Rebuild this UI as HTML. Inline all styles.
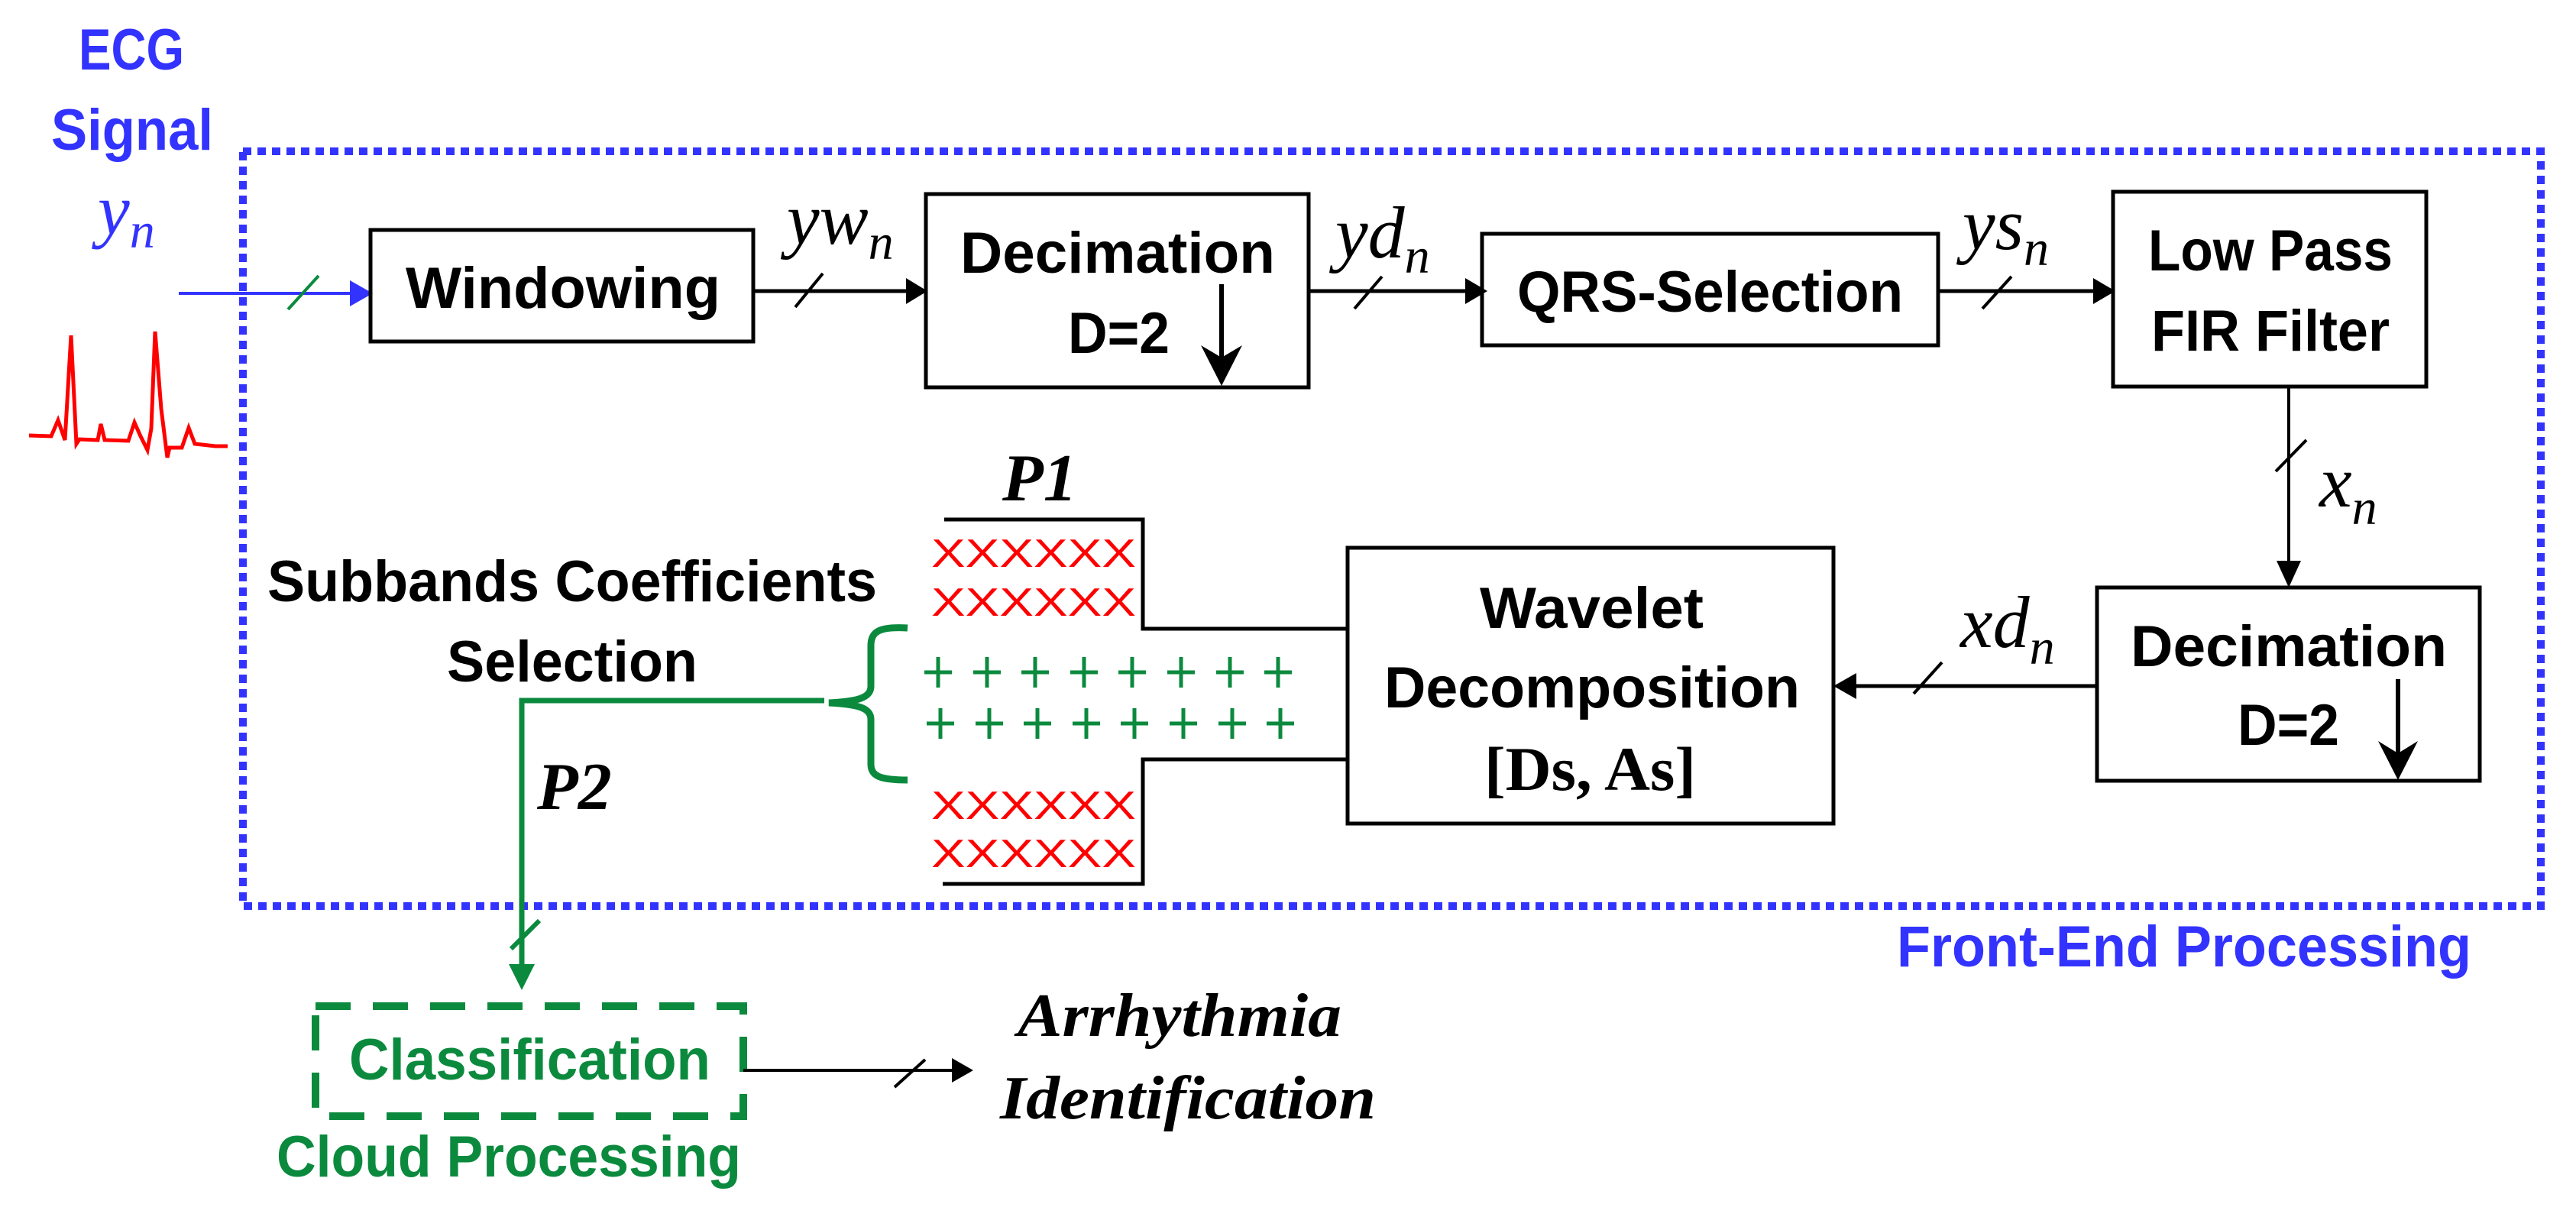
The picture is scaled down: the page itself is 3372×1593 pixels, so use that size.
<!DOCTYPE html>
<html><head><meta charset="utf-8"><style>
html,body{margin:0;padding:0;background:#fff;}
svg{display:block;}
.b{font-family:"Liberation Sans",sans-serif;font-weight:bold;font-size:76px;}
.m{font-family:"Liberation Serif",serif;font-style:italic;}
</style></head><body>
<svg width="3372" height="1593" viewBox="0 0 3372 1593" xmlns="http://www.w3.org/2000/svg">
<rect x="318" y="198" width="3008" height="988" fill="none" stroke="#3333ff" stroke-width="10" stroke-dasharray="11 8"/>
<text class="b" x="103" y="91" fill="#3333ff" textLength="138" lengthAdjust="spacingAndGlyphs">ECG</text>
<text class="b" x="67" y="196" fill="#3333ff" textLength="212" lengthAdjust="spacingAndGlyphs">Signal</text>
<text class="m" x="128" y="306" fill="#3333ff" font-size="94">y<tspan font-size="66" dy="18">n</tspan></text>
<polyline fill="none" stroke="#ff0000" stroke-width="5" points="38,570 67,571 76,550 85,576 93,439 100,581 104,575 128,576 132,555 137,576 168,577 176,553 184,571 193,589 198,561 203,434 211,535 219,599 222,586 238,586 247,560 255,581 282,584 298,584"/>
<line x1="234" y1="384" x2="462" y2="384" stroke="#3333ff" stroke-width="4"/>
<polygon points="488,384 458,367 458,401" fill="#3333ff"/>
<line x1="377" y1="405" x2="417" y2="361" stroke="#0b8a3e" stroke-width="4"/>
<rect x="485" y="301" width="501" height="146" fill="none" stroke="#000" stroke-width="5"/>
<text class="b" x="531" y="403" textLength="412" lengthAdjust="spacingAndGlyphs">Windowing</text>
<line x1="986" y1="381" x2="1190" y2="381" stroke="#000" stroke-width="5"/>
<polygon points="1214,381 1186,364 1186,398" fill="#000"/>
<line x1="1041" y1="402" x2="1077" y2="358" stroke="#000" stroke-width="4"/>
<text class="m" x="1030" y="319" font-size="96">yw<tspan font-size="66" dy="20">n</tspan></text>
<rect x="1212" y="254" width="501" height="253" fill="none" stroke="#000" stroke-width="5"/>
<text class="b" x="1257" y="357" textLength="412" lengthAdjust="spacingAndGlyphs">Decimation</text>
<text class="b" x="1398" y="462" textLength="133" lengthAdjust="spacingAndGlyphs">D=2</text>
<line x1="1599" y1="372" x2="1599" y2="470" stroke="#000" stroke-width="6"/>
<polygon points="1599,505 1572,452 1599,468 1626,452" fill="#000"/>
<line x1="1713" y1="381" x2="1922" y2="381" stroke="#000" stroke-width="5"/>
<polygon points="1947,381 1918,364 1918,398" fill="#000"/>
<line x1="1773" y1="404" x2="1809" y2="362" stroke="#000" stroke-width="4"/>
<text class="m" x="1748" y="337" font-size="96">yd<tspan font-size="66" dy="20">n</tspan></text>
<rect x="1940" y="306" width="597" height="146" fill="none" stroke="#000" stroke-width="5"/>
<text class="b" x="1986" y="408" textLength="505" lengthAdjust="spacingAndGlyphs">QRS-Selection</text>
<line x1="2537" y1="381" x2="2744" y2="381" stroke="#000" stroke-width="5"/>
<polygon points="2769,381 2740,364 2740,398" fill="#000"/>
<line x1="2595" y1="404" x2="2633" y2="362" stroke="#000" stroke-width="4"/>
<text class="m" x="2569" y="326" font-size="96">ys<tspan font-size="66" dy="21">n</tspan></text>
<rect x="2766" y="251" width="410" height="255" fill="none" stroke="#000" stroke-width="5"/>
<text class="b" x="2812" y="354" textLength="320" lengthAdjust="spacingAndGlyphs">Low Pass</text>
<text class="b" x="2816" y="459" textLength="312" lengthAdjust="spacingAndGlyphs">FIR Filter</text>
<line x1="2996" y1="506" x2="2996" y2="745" stroke="#000" stroke-width="4"/>
<polygon points="2996,769 2980,734 3012,734" fill="#000"/>
<line x1="2979" y1="617" x2="3019" y2="576" stroke="#000" stroke-width="4"/>
<text class="m" x="3036" y="663" font-size="96">x<tspan font-size="66" dy="23">n</tspan></text>
<rect x="2745" y="769" width="501" height="253" fill="none" stroke="#000" stroke-width="5"/>
<text class="b" x="2789" y="872" textLength="414" lengthAdjust="spacingAndGlyphs">Decimation</text>
<text class="b" x="2929" y="975" textLength="133" lengthAdjust="spacingAndGlyphs">D=2</text>
<line x1="3139" y1="889" x2="3139" y2="990" stroke="#000" stroke-width="6"/>
<polygon points="3139,1021 3113,970 3139,986 3165,970" fill="#000"/>
<line x1="2745" y1="898" x2="2424" y2="898" stroke="#000" stroke-width="5"/>
<polygon points="2400,898 2430,881 2430,915" fill="#000"/>
<line x1="2505" y1="908" x2="2542" y2="867" stroke="#000" stroke-width="4"/>
<text class="m" x="2566" y="847" font-size="96">xd<tspan font-size="66" dy="22">n</tspan></text>
<rect x="1764" y="717" width="636" height="361" fill="none" stroke="#000" stroke-width="5"/>
<text class="b" x="1937" y="822" textLength="293" lengthAdjust="spacingAndGlyphs">Wavelet</text>
<text class="b" x="1812" y="926" textLength="544" lengthAdjust="spacingAndGlyphs">Decomposition</text>
<text x="1943" y="1034" font-family="Liberation Serif,serif" font-weight="bold" font-size="82" textLength="277" lengthAdjust="spacingAndGlyphs">[Ds, As]</text>
<polyline fill="none" stroke="#000" stroke-width="5" points="1236,680 1496,680 1496,823 1764,823"/>
<polyline fill="none" stroke="#000" stroke-width="5" points="1764,994 1496,994 1496,1157 1234,1157"/>
<text class="m" x="1312" y="655" font-size="88" font-weight="bold">P1</text>
<g font-family="Liberation Sans,sans-serif" font-size="52" fill="#ff0000">
<text x="1219" y="742" textLength="268" lengthAdjust="spacingAndGlyphs">XXXXXX</text>
<text x="1219" y="806" textLength="268" lengthAdjust="spacingAndGlyphs">XXXXXX</text>
<text x="1219" y="1072" textLength="268" lengthAdjust="spacingAndGlyphs">XXXXXX</text>
<text x="1219" y="1135" textLength="268" lengthAdjust="spacingAndGlyphs">XXXXXX</text>
</g>
<g stroke="#0b8a3e" stroke-width="5">
<path d="M1210,880h36M1228,860v40 M1274,880h36M1292,860v40 M1337,880h36M1355,860v40 M1401,880h36M1419,860v40 M1464,880h36M1482,860v40 M1528,880h36M1546,860v40 M1592,880h36M1610,860v40 M1655,880h36M1673,860v40"/>
<path d="M1213,947h36M1231,927v40 M1277,947h36M1295,927v40 M1340,947h36M1358,927v40 M1404,947h36M1422,927v40 M1467,947h36M1485,927v40 M1531,947h36M1549,927v40 M1595,947h36M1613,927v40 M1658,947h36M1676,927v40"/>
</g>
<path d="M1188,822 C1152,820 1140,826 1140,845 L1140,898 C1140,914 1122,918 1085,920 C1122,922 1140,926 1140,942 L1140,1000 C1140,1016 1152,1021 1188,1021" fill="none" stroke="#0b8a3e" stroke-width="9"/>
<polyline fill="none" stroke="#0b8a3e" stroke-width="7" points="1079,917 683,917 683,1268"/>
<polygon points="683,1296 666,1262 700,1262" fill="#0b8a3e"/>
<line x1="669" y1="1242" x2="706" y2="1205" stroke="#0b8a3e" stroke-width="6"/>
<text class="b" x="350" y="787" textLength="798" lengthAdjust="spacingAndGlyphs">Subbands Coefficients</text>
<text class="b" x="585" y="892" textLength="328" lengthAdjust="spacingAndGlyphs">Selection</text>
<text class="m" x="703" y="1059" font-size="88" font-weight="bold">P2</text>
<rect x="413" y="1317" width="560" height="144" fill="none" stroke="#0b8a3e" stroke-width="10" stroke-dasharray="46 29"/>
<text class="b" x="457" y="1413" fill="#0b8a3e" textLength="473" lengthAdjust="spacingAndGlyphs">Classification</text>
<text class="b" x="362" y="1540" fill="#0b8a3e" textLength="608" lengthAdjust="spacingAndGlyphs">Cloud Processing</text>
<line x1="973" y1="1401" x2="1250" y2="1401" stroke="#000" stroke-width="4"/>
<polygon points="1274,1401 1246,1385 1246,1417" fill="#000"/>
<line x1="1171" y1="1423" x2="1211" y2="1387" stroke="#000" stroke-width="4"/>
<text class="m" x="1332" y="1356" font-size="80" font-weight="bold" textLength="424" lengthAdjust="spacingAndGlyphs">Arrhythmia</text>
<text class="m" x="1309" y="1464" font-size="80" font-weight="bold" textLength="492" lengthAdjust="spacingAndGlyphs">Identification</text>
<text class="b" x="2483" y="1265" fill="#3333ff" textLength="752" lengthAdjust="spacingAndGlyphs">Front-End Processing</text>
</svg>
</body></html>
